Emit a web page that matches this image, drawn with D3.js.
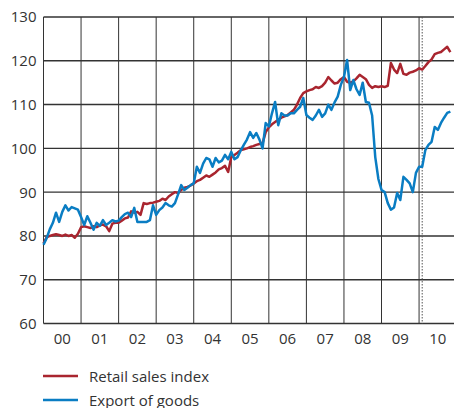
<!DOCTYPE html>
<html>
<head>
<meta charset="utf-8">
<script src="https://cdn.jsdelivr.net/npm/d3@7"></script>
<style>
  body { margin: 0; background: #fff; }
  text { font-family: "Open Sans", sans-serif; fill: #333; }
</style>
</head>
<body>
<script>
const w = 454;
const h = 408;
const retailColor = "#a9252f";
const exportColor = "#0a7dc3";
const gridColor = "#333";

// monthly values, Jan 2000 - Nov 2010
const years = ["00", "01", "02", "03", "04", "05", "06", "07", "08", "09", "10"];
const yTicks = [60, 70, 80, 90, 100, 110, 120, 130];

const retail = [
  78.3, 79.7, 80, 80.2, 80.4, 80.2, 80, 80.3, 80, 80.2, 79.6, 80.5,
  82, 82.2, 82, 81.8, 82.2, 82, 82.4, 82.6, 82.2, 81.1, 82.8, 83,
  83, 83.5, 84, 84.2, 85.6, 85.3, 85.5, 84.8, 87.5, 87.3, 87.5, 87.6,
  87.8, 88, 88.5, 88.2, 89, 89.5, 90, 89.8, 90.5, 91, 91.2, 91.5,
  92, 92.5, 92.8, 93.3, 93.8, 93.5, 94, 94.5, 95.2, 95.5, 96, 94.6,
  98, 98.5, 99, 99.6, 99.8, 100, 100.3, 100.5, 100.8, 101, 101.2, 103.7,
  104.8, 105.5, 106, 106.5, 107, 107.3, 107.6, 108.2, 108.8, 110, 111.5, 112.6,
  113, 113.3, 113.5, 114, 113.8, 114.2, 115, 116.3, 115.5, 114.8, 115, 115.8,
  116.3, 115.2, 115, 115.3, 116, 116.8, 116.3, 115.8, 114.5, 113.8, 114.2, 114,
  114.2, 114, 114.3, 119.5, 118, 117.2, 119.3, 117, 116.8, 117.3, 117.5, 117.8,
  118.3, 118, 118.8, 119.7, 120.3, 121.5, 121.8, 122, 122.6, 123.2, 122
];

const exports = [
  78, 79.5, 81.5, 83, 85.3, 83.2, 85.5, 87, 85.8, 86.6, 86.3, 86,
  84.3, 82.5, 84.5, 83, 81.4, 83, 82.3, 83.6, 82.5, 83, 83.6, 83.3,
  83.5, 84.3, 85, 85.3, 84.3, 86.4, 83.2, 83.2, 83.2, 83.2, 83.6, 87,
  84.8, 85.9, 86.5, 87.5, 87, 86.7, 87.5, 89.5, 91.6, 90.5, 91, 91.6,
  92, 95.8, 94.4, 96.5, 97.8, 97.5, 95.8, 97.8, 96.8, 97.2, 98.5, 97.5,
  99.2, 97.5, 98, 99.5, 100.8, 102, 103.7, 102.4, 103.5, 102, 100, 105.8,
  105, 108, 110.6, 105.3, 108, 107.5, 107.5, 108, 108, 108.8, 109.5, 111.5,
  107.6, 107, 106.5, 107.5, 108.8, 107.2, 108, 110, 108.8, 110.5, 111.8, 114.5,
  116.3, 120.2, 113.3, 115.6, 113.5, 112.2, 115, 110.6, 110.4, 107.5, 98, 93,
  90.5, 90, 87.5, 86, 86.5, 89.8, 88.2, 93.5, 92.8, 92, 90, 94.4,
  95.8, 95.8, 99.6, 100.8, 101.5, 104.9, 104.2, 105.8, 107, 108.1, 108.4
];

const legendItems = [
  {name: "Retail sales index", color: retailColor},
  {name: "Export of goods", color: exportColor}
];

const svg = d3.select("body")
              .append("svg")
              .attr("width", w)
              .attr("height", h);

const x = d3.scaleLinear()
            .domain([2000, 2010 + 11 / 12])
            .range([43.5, 453.5]);

const y = d3.scaleLinear()
            .domain([60, 130])
            .range([323.5, 17]);

const monthX = (d, i) => x(2000 + i / 12);

// horizontal grid
svg.append("g")
   .selectAll("line")
   .data(yTicks)
   .enter()
   .append("line")
   .attr("x1", x(2000))
   .attr("x2", w)
   .attr("y1", d => y(d))
   .attr("y2", d => y(d))
   .attr("stroke", gridColor)
   .attr("stroke-width", 1.4);

// vertical grid, one per year
svg.append("g")
   .selectAll("line")
   .data(d3.range(2000, 2011))
   .enter()
   .append("line")
   .attr("x1", d => x(d))
   .attr("x2", d => x(d))
   .attr("y1", y(130))
   .attr("y2", y(60))
   .attr("stroke", gridColor)
   .attr("stroke-width", 1);

// dotted marker, Feb 2010
svg.append("line")
   .attr("x1", x(2010 + 1 / 12))
   .attr("x2", x(2010 + 1 / 12))
   .attr("y1", y(130))
   .attr("y2", y(60))
   .attr("stroke", "#555")
   .attr("stroke-width", 1)
   .attr("stroke-dasharray", "1.5,1.5");

// y labels
svg.append("g")
   .selectAll("text")
   .data(yTicks)
   .enter()
   .append("text")
   .attr("x", 36.5)
   .attr("y", d => y(d))
   .attr("dy", "0.36em")
   .attr("text-anchor", "end")
   .style("font-size", "15px")
   .text(d => d);

// x labels
svg.append("g")
   .selectAll("text")
   .data(years)
   .enter()
   .append("text")
   .attr("x", (d, i) => x(2000 + i + 0.5))
   .attr("y", 343.5)
   .attr("text-anchor", "middle")
   .style("font-size", "15px")
   .text(d => d);

const line = d3.line()
               .x(monthX)
               .y(d => y(d));

svg.append("path")
   .datum(retail)
   .attr("fill", "none")
   .attr("stroke", retailColor)
   .attr("stroke-width", 2.5)
   .attr("stroke-linejoin", "round")
   .attr("d", line);

svg.append("path")
   .datum(exports)
   .attr("fill", "none")
   .attr("stroke", exportColor)
   .attr("stroke-width", 2.5)
   .attr("stroke-linejoin", "round")
   .attr("d", line);

// legend
const legend = svg.append("g")
                  .selectAll("g")
                  .data(legendItems)
                  .enter()
                  .append("g")
                  .attr("transform", (d, i) => "translate(0," + (376 + i * 24) + ")");

legend.append("line")
      .attr("x1", 43)
      .attr("x2", 78)
      .attr("stroke", d => d.color)
      .attr("stroke-width", 2.5);

legend.append("text")
      .attr("x", 89)
      .attr("y", 6)
      .style("font-size", "15px")
      .text(d => d.name);
</script>
</body>
</html>
